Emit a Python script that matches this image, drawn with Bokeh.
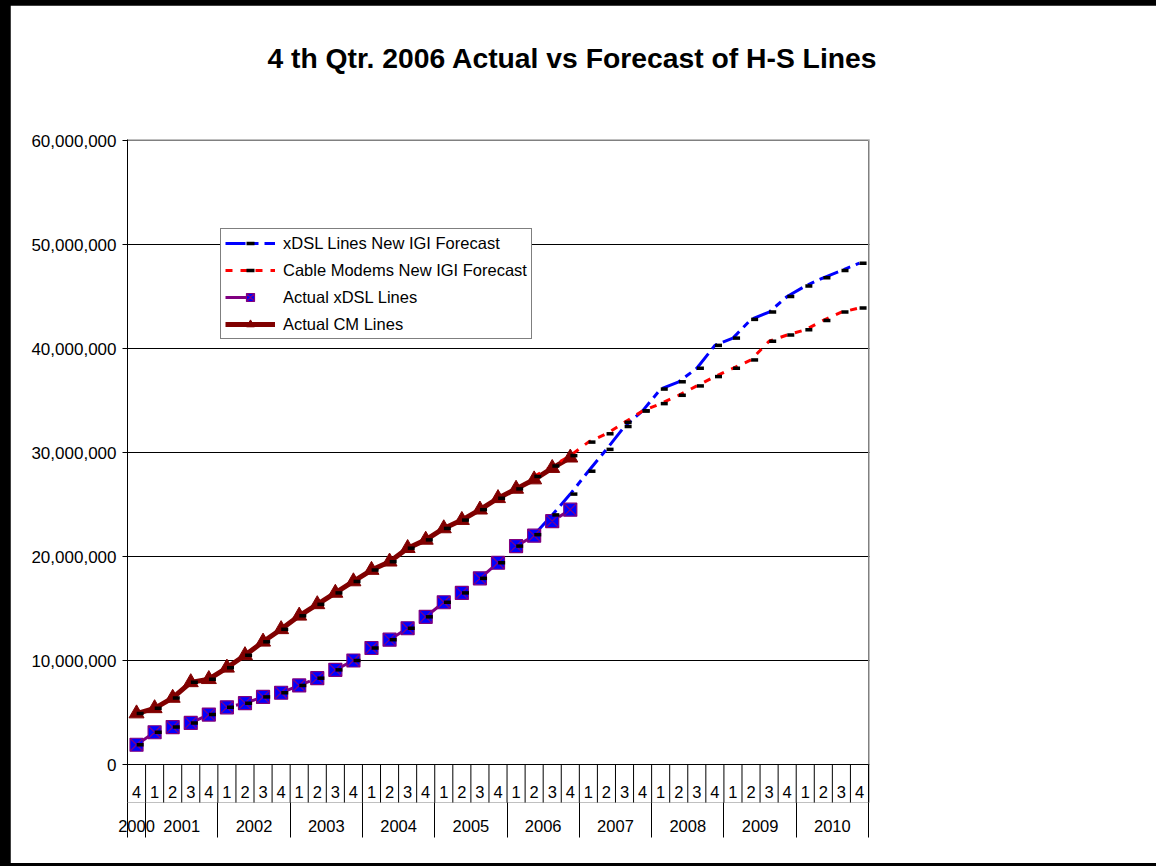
from bokeh.plotting import figure
from bokeh.models import (Range1d, FixedTicker, NumeralTickFormatter, Legend, LegendItem,
                          LabelSet, ColumnDataSource, GlobalInlineStyleSheet, LinearAxis,
                          CustomJSTickFormatter)
from bokeh.transform import dodge
from bokeh.core.properties import value
from bokeh.embed import file_html
from bokeh.resources import INLINE

# ---------------- data ----------------
years = ["2000", "2001", "2002", "2003", "2004", "2005", "2006", "2007", "2008", "2009", "2010"]
quarters_per_year = [1, 4, 4, 4, 4, 4, 4, 4, 4, 4, 4]
quarter_labels = ["4",
                  "1", "2", "3", "4", "1", "2", "3", "4", "1", "2", "3", "4",
                  "1", "2", "3", "4", "1", "2", "3", "4", "1", "2", "3", "4",
                  "1", "2", "3", "4", "1", "2", "3", "4", "1", "2", "3", "4",
                  "1", "2", "3", "4"]

# values in millions of lines
xdsl_actual = [1.9, 3.1, 3.6, 4.0, 4.8, 5.5, 5.9, 6.5, 6.9, 7.6, 8.3, 9.1, 10.0,
               11.2, 12.0, 13.1, 14.2, 15.6, 16.5, 17.9, 19.4, 21.0, 22.0, 23.4, 24.5]
cm_actual = [4.9, 5.4, 6.4, 7.9, 8.2, 9.3, 10.5, 11.8, 13.0, 14.3, 15.4, 16.5, 17.6,
             18.7, 19.5, 20.8, 21.6, 22.7, 23.5, 24.5, 25.6, 26.5, 27.4, 28.5, 29.5]
xdsl_forecast = [1.9, 3.1, 3.6, 4.0, 4.8, 5.5, 5.9, 6.5, 6.9, 7.6, 8.3, 9.1, 10.0,
                 11.2, 12.0, 13.1, 14.2, 15.6, 16.5, 17.9, 19.4, 21.0,
                 22.1, 24.0, 26.0, 28.2, 30.3, 32.5, 34.0, 36.1, 36.8, 38.1, 40.3,
                 41.0, 42.8, 43.5, 45.0, 46.0, 46.8, 47.5, 48.2]
cm_forecast = [4.9, 5.4, 6.4, 7.9, 8.2, 9.3, 10.5, 11.8, 13.0, 14.3, 15.4, 16.5, 17.6,
               18.7, 19.5, 20.8, 21.6, 22.7, 23.5, 24.5, 25.6, 26.5,
               27.7, 28.7, 29.7, 31.0, 31.8, 32.9, 34.0, 34.7, 35.5, 36.4, 37.3,
               38.1, 38.9, 40.7, 41.3, 41.8, 42.7, 43.5, 43.9]
y_ticks = [0, 10_000_000, 20_000_000, 30_000_000, 40_000_000, 50_000_000, 60_000_000]
grid_ticks = [0, 10_000_000, 20_000_000, 30_000_000, 40_000_000, 50_000_000]

title_text = "4 th Qtr. 2006 Actual vs Forecast of H-S Lines"

# ---------------- layout constants ----------------
M = 1_000_000
N = len(quarter_labels)
FORECAST_LINE_START = 22          # forecast lines drawn from 2006 Q2 on
PX_PER_CAT = 741 / N
PLOT_PX = 624                     # pixels for 0 .. 60M
Y_PER_PX = y_ticks[-1] / PLOT_PX
QROW_PX = 38                      # quarter row below the 0 line
TITLE_CENTER_PX = 445             # title centre, px right of the value axis
FONT = "Liberation Sans"
FS = "16.5px"

x_all = [i + 0.5 for i in range(N)]
na = len(xdsl_actual)

act = ColumnDataSource(dict(x=x_all[:na],
                            xdsl=[v * M for v in xdsl_actual],
                            cm=[v * M for v in cm_actual]))
fc = ColumnDataSource(dict(x=x_all,
                           xdsl=[v * M for v in xdsl_forecast],
                           cm=[v * M for v in cm_forecast]))
fcl = ColumnDataSource(dict(x=x_all[FORECAST_LINE_START:],
                            xdsl=[v * M for v in xdsl_forecast[FORECAST_LINE_START:]],
                            cm=[v * M for v in cm_forecast[FORECAST_LINE_START:]]))

p = figure(frame_width=742, frame_height=PLOT_PX + 1 + QROW_PX,
           x_range=Range1d(0, N + 1 / PX_PER_CAT),
           y_range=Range1d(-QROW_PX * Y_PER_PX, y_ticks[-1] + Y_PER_PX),
           min_border_left=117, min_border_right=287,
           min_border_top=134, min_border_bottom=61,
           toolbar_location=None, output_backend="svg",
           x_axis_location=None)
p.outline_line_color = None
p.background_fill_color = "white"
p.border_fill_color = "white"
# black frame around the chart (page background shows as the border)
p.stylesheets = [GlobalInlineStyleSheet(
    css="html, body { background: #000 !important; } "
        "body { padding: 5px 0 0 10px !important; overflow: hidden; }")]

# title, drawn as the single label of an axis above the frame
tax = LinearAxis(ticker=FixedTicker(ticks=[TITLE_CENTER_PX / PX_PER_CAT], minor_ticks=[]),
                 formatter=CustomJSTickFormatter(args=dict(t=title_text), code="return t;"))
tax.axis_line_color = None
tax.major_tick_line_color = None
tax.minor_tick_line_color = None
tax.major_tick_out = 0
tax.major_tick_in = 0
tax.minor_tick_out = 0
tax.major_label_standoff = 66
tax.major_label_text_font = FONT
tax.major_label_text_font_style = "bold"
tax.major_label_text_font_size = "28.3px"
tax.major_label_text_color = "black"
p.add_layout(tax, "above")

# y axis
yax = p.yaxis[0]
yax.ticker = FixedTicker(ticks=y_ticks)
yax.formatter = NumeralTickFormatter(format="0,0")
yax.axis_line_color = "black"
yax.axis_line_width = 1
yax.major_tick_line_color = "black"
yax.major_tick_out = 5
yax.major_tick_in = 0
yax.minor_tick_line_color = None
yax.major_label_text_font = FONT
yax.major_label_text_font_size = "17px"
yax.major_label_text_color = "black"
yax.major_label_standoff = 6

p.xgrid.grid_line_color = None
p.ygrid.ticker = FixedTicker(ticks=grid_ticks)
p.ygrid.grid_line_color = "black"
p.ygrid.grid_line_width = 1

# plot-area border (gray) above the 0 line
p.segment(x0=[0, N], y0=[y_ticks[-1], 0], x1=[N, N], y1=[y_ticks[-1], y_ticks[-1]],
          line_color="#808080", line_width=1)

# category table: quarter row inside the frame
qsep = list(range(1, N + 1))
p.segment(x0=qsep, x1=qsep, y0=[0] * len(qsep), y1=[-(QROW_PX + 4) * Y_PER_PX] * len(qsep),
          line_color="black", line_width=1)
qsrc = ColumnDataSource(dict(x=x_all, y=[-27 * Y_PER_PX] * N, t=quarter_labels))
p.add_layout(LabelSet(x="x", y="y", text="t", source=qsrc,
                      text_align="center", text_baseline="middle",
                      text_font=value(FONT), text_font_size=FS, text_color="black"))

# year row: an axis below the frame, separators as minor ticks
ysep = [0]
ycent = []
acc = 0
for span in quarters_per_year:
    ycent.append(acc + span / 2)
    acc += span
    ysep.append(acc)
xax = LinearAxis(ticker=FixedTicker(ticks=ycent, minor_ticks=ysep),
                 formatter=CustomJSTickFormatter(
                     args=dict(pos=ycent, labels=years),
                     code="const i = pos.findIndex(v => Math.abs(v - tick) < 1e-6);"
                          " return i >= 0 ? labels[i] : '';"))
xax.axis_line_color = None
xax.axis_line_alpha = 0
xax.major_tick_line_color = None
xax.major_tick_out = 0
xax.major_tick_in = 0
xax.minor_tick_line_color = "black"
xax.minor_tick_line_width = 1
xax.minor_tick_out = 35
xax.minor_tick_in = 0
xax.major_label_standoff = -18
xax.major_label_text_font = FONT
xax.major_label_text_font_size = FS
xax.major_label_text_color = "black"
p.add_layout(xax, "below")

# series
r_cm_line = p.line("x", "cm", source=act, line_color="#800000", line_width=5)
r_x_line = p.line("x", "xdsl", source=act, line_color="#800080", line_width=3,
                  line_dash="24 30")
r_fx_line = p.line("x", "xdsl", source=fcl, line_color="#0000FF", line_width=3,
                   line_dash="20 6 7 6")
r_fc_line = p.line("x", "cm", source=fcl, line_color="#FF0000", line_width=3,
                   line_dash="7 8")
r_cm_mk = p.scatter("x", "cm", source=act, marker="triangle", size=15,
                    fill_color="#800000", line_color="#800000")
r_x_mk = p.scatter("x", "xdsl", source=act, marker="square_x", size=13,
                   fill_color="#0000FF", line_color="#800080", line_width=1.2)
r_fx_mk = p.scatter(dodge("x", 0.2, range=p.x_range), "xdsl", source=fc, marker="dash",
                    size=7, line_color="black", line_width=3.5)
r_fc_mk = p.scatter(dodge("x", 0.2, range=p.x_range), "cm", source=fc, marker="dash",
                    size=7, line_color="black", line_width=3.5)

legend = Legend(items=[
    LegendItem(label="xDSL Lines New IGI Forecast", renderers=[r_fx_line, r_fx_mk]),
    LegendItem(label="Cable Modems New IGI Forecast", renderers=[r_fc_line, r_fc_mk]),
    LegendItem(label="Actual xDSL Lines", renderers=[r_x_line, r_x_mk]),
    LegendItem(label="Actual CM Lines", renderers=[r_cm_line, r_cm_mk]),
], location=(93, 498 + QROW_PX - 73), glyph_width=50, glyph_height=20, label_height=20,
    label_standoff=8, spacing=7, padding=4, margin=0,
    border_line_color="black", border_line_width=1,
    background_fill_color="white", background_fill_alpha=1,
    label_text_font=FONT, label_text_font_size=FS, label_text_color="black")
p.add_layout(legend, "center")

open("out.html", "w").write(file_html(p, INLINE))
